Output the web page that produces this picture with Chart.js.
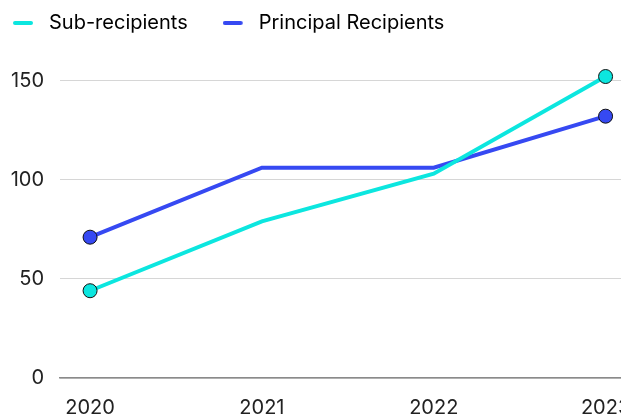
<!DOCTYPE html>
<html>
<head>
<meta charset="utf-8">
<script src="https://cdn.jsdelivr.net/npm/chart.js@4"></script>
<style>
  html, body { margin: 0; padding: 0; background: #fff; overflow: hidden; }
  #wrap { width: 700px; height: 416px; }
</style>
</head>
<body>
<div id="wrap"><canvas id="chart"></canvas></div>
<script>
const years = [2020, 2021, 2022, 2023];
const subRecipients = [44, 79, 103, 152];
const principalRecipients = [71, 106, 106, 132];
const yTicks = [0, 50, 100, 150];

const cyan = '#0ce6df';
const blue = '#3649f2';

// short rounded dash used as the legend marker
function legendDash(color) {
    const c = document.createElement('canvas');
    c.width = 26;
    c.height = 6;
    const g = c.getContext('2d');
    g.strokeStyle = color;
    g.lineWidth = 4;
    g.lineCap = 'round';
    g.beginPath();
    g.moveTo(2, 3);
    g.lineTo(18, 3);
    g.stroke();
    return c;
}

// only the first and last point get a dot
const endPoints = (ctx) => (ctx.dataIndex === 0 || ctx.dataIndex === years.length - 1) ? 7 : 0;

const makeSet = (label, values, color) => ({
    label: label,
    data: values.map((v, i) => ({ x: years[i], y: v })),
    borderColor: color,
    backgroundColor: color,
    borderWidth: 4,
    pointRadius: endPoints,
    pointHoverRadius: endPoints,
    pointBorderColor: '#111',
    pointBorderWidth: 1,
    pointBackgroundColor: color,
    tension: 0,
    clip: false,
});

Chart.defaults.font.family = 'Inter, sans-serif';
Chart.defaults.color = '#222';

new Chart(document.getElementById('chart'), {
    type: 'line',
    data: {
        datasets: [
            makeSet('Sub-recipients', subRecipients, cyan),
            makeSet('Principal Recipients', principalRecipients, blue),
        ],
    },
    options: {
        responsive: true,
        maintainAspectRatio: false,
        animation: false,
        layout: { padding: { top: -22, left: -22, right: 0, bottom: 0 } },
        plugins: {
            tooltip: { enabled: false },
            legend: {
                align: 'start',
                labels: {
                    font: { size: 20 },
                    color: '#222',
                    padding: 35,
                    usePointStyle: true,
                    pointStyleWidth: 26,
                    generateLabels: (chart) => chart.data.datasets.map((ds, i) => ({
                        text: ds.label,
                        pointStyle: legendDash(ds.borderColor),
                        fillStyle: 'transparent',
                        strokeStyle: 'transparent',
                        lineWidth: 0,
                        hidden: false,
                        datasetIndex: i,
                    })),
                },
            },
        },
        scales: {
            x: {
                type: 'linear',
                min: 2019.825,
                max: 2023.503,
                grid: { display: false, drawTicks: false },
                border: { display: true, color: '#8a8a8a', width: 1.5 },
                afterBuildTicks: (scale) => { scale.ticks = years.map(v => ({ value: v })); },
                afterFit: (scale) => { scale.height = 38; },
                ticks: {
                    font: { size: 20 },
                    padding: 18,
                    maxRotation: 0,
                    callback: (v) => String(v),
                },
            },
            y: {
                min: 0,
                max: 168.9,
                grid: { color: '#d6d6d6', drawTicks: false, lineWidth: 1 },
                border: { display: false },
                afterBuildTicks: (scale) => { scale.ticks = yTicks.map(v => ({ value: v })); },
                afterFit: (scale) => { scale.width = 82; },
                ticks: {
                    font: { size: 20 },
                    padding: 16,
                },
            },
        },
    },
});
</script>
</body>
</html>
